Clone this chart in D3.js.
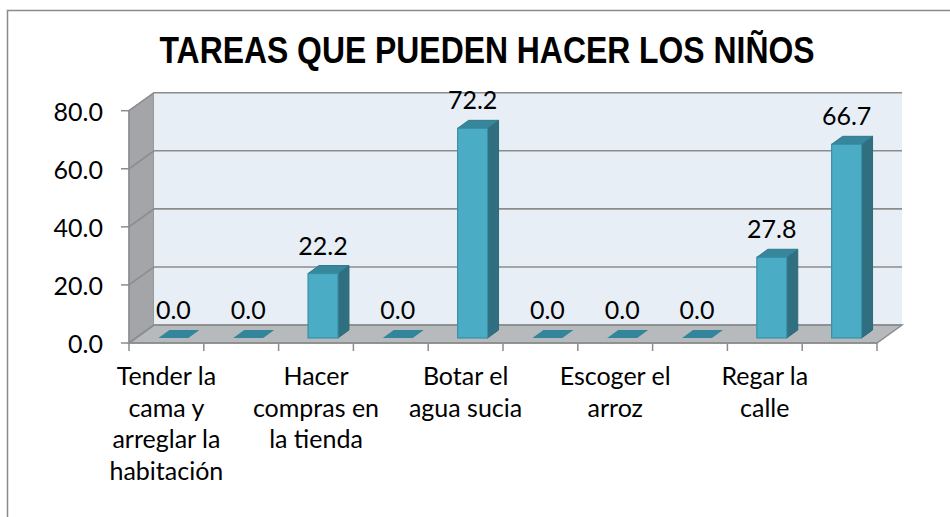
<!DOCTYPE html>
<html>
<head>
<meta charset="utf-8">
<script src="https://cdn.jsdelivr.net/npm/d3@7"></script>
<style>
	body { margin: 0; background: #fff; }
	svg { display: block; }
</style>
</head>
<body>
<svg id="chart" width="950" height="517"></svg>
<script>
// datos del gráfico
const title = 'TAREAS QUE PUEDEN HACER LOS NIÑOS';
const values = [0.0, 0.0, 22.2, 0.0, 72.2, 0.0, 0.0, 0.0, 27.8, 66.7];
// sólo se ven las etiquetas de las categorías pares
const catLabels = [
	['Tender la', 'cama y', 'arreglar la', 'habitación'], [],
	['Hacer', 'compras en', 'la tienda'], [],
	['Botar el', 'agua sucia'], [],
	['Escoger el', 'arroz'], [],
	['Regar la', 'calle'], []
];
const yTicks = [0, 20, 40, 60, 80];

const svg = d3.select('#chart');
const font = 'Lato, "Open Sans", sans-serif';
const fs = 25;

// marco
svg.append('path').attr('d', 'M7.5,517 V10.5 H950').attr('fill', 'none').attr('stroke', '#8a8a8a').attr('stroke-width', 1.5);

// título
svg.append('text').attr('x', 487).attr('y', 63).attr('text-anchor', 'middle')
	.attr('font-family', '"Liberation Sans", Arial, sans-serif').attr('font-weight', 'bold').attr('font-size', 36)
	.attr('textLength', 655).attr('lengthAdjust', 'spacingAndGlyphs')
	.text(title);

const x = d3.scaleBand().domain(d3.range(values.length)).range([129, 877]).paddingInner(0.6).paddingOuter(0.3);
const y = d3.scaleLinear().domain([0, 80]).range([343, 110.7]);
const dx = 25, dy = -18; // profundidad del piso
const bdx = 11, bdy = -8; // profundidad de la barra
const ox = (dx - bdx) / 2, oy = (dy - bdy) / 2; // barra centrada en profundidad
const x0 = 129, x1 = 877;

// pared lateral
svg.append('path')
	.attr('d', `M${x0},${y(0)} L${x0},${y(80)} L${x0 + dx},${y(80) + dy} L${x0 + dx},${y(0) + dy} Z`)
	.attr('fill', '#a3a5a9').attr('stroke', '#8c8c8c').attr('stroke-width', 1);
// pared del fondo
svg.append('rect').attr('x', x0 + dx).attr('y', y(80) + dy).attr('width', x1 - x0).attr('height', y(0) - y(80))
	.attr('fill', '#e8eef5');
// piso
svg.append('path')
	.attr('d', `M${x0},${y(0)} L${x1},${y(0)} L${x1 + dx},${y(0) + dy} L${x0 + dx},${y(0) + dy} Z`)
	.attr('fill', '#b6babd').attr('stroke', '#8c8c8c').attr('stroke-width', 1.5);

// líneas de cuadrícula
yTicks.forEach((t) => {
	svg.append('path')
		.attr('d', `M${x0},${y(t)} L${x0 + dx},${y(t) + dy} H${x1 + dx}`)
		.attr('fill', 'none').attr('stroke', '#8c8c8c').attr('stroke-width', 1.6);
});

// eje Y
svg.append('line').attr('x1', x0).attr('x2', x0).attr('y1', y(80)).attr('y2', y(0)).attr('stroke', '#8c8c8c').attr('stroke-width', 1.5);
yTicks.forEach((t) => {
	svg.append('line').attr('x1', x0 - 8).attr('x2', x0).attr('y1', y(t)).attr('y2', y(t)).attr('stroke', '#8c8c8c').attr('stroke-width', 1.5);
	svg.append('text').attr('x', 103).attr('y', y(t) + 10).attr('text-anchor', 'end')
		.attr('font-family', font).attr('font-size', fs).attr('fill', '#000').text(t.toFixed(1));
});

// eje X y marcas
svg.append('line').attr('x1', x0).attr('x2', x1).attr('y1', y(0)).attr('y2', y(0)).attr('stroke', '#8c8c8c').attr('stroke-width', 1.5);
const step = x.step();
d3.range(values.length + 1).forEach((i) => {
	const tx = x0 + i * step;
	svg.append('line').attr('x1', tx).attr('x2', tx).attr('y1', y(0)).attr('y2', y(0) + 8).attr('stroke', '#8c8c8c').attr('stroke-width', 1.5);
});

// barras 3D
const bars = svg.append('g');
values.forEach((v, i) => {
	const bx = x(i) + ox, bw = x.bandwidth();
	const by0 = y(0) + oy, by1 = y(v) + oy;
	const g = bars.append('g');
	if (v > 0) {
		// cara lateral
		g.append('path').attr('d', `M${bx + bw},${by0} L${bx + bw},${by1} L${bx + bw + bdx},${by1 + bdy} L${bx + bw + bdx},${by0 + bdy} Z`)
			.attr('fill', '#2f6f80').attr('stroke', '#2b6a7a').attr('stroke-width', 1);
		// cara superior
		g.append('path').attr('d', `M${bx},${by1} L${bx + bw},${by1} L${bx + bw + bdx},${by1 + bdy} L${bx + bdx},${by1 + bdy} Z`)
			.attr('fill', '#36879b').attr('stroke', '#2f7a8c').attr('stroke-width', 1);
		// cara frontal
		g.append('rect').attr('x', bx).attr('y', by1).attr('width', bw).attr('height', by0 - by1)
			.attr('fill', '#4bacc6').attr('stroke', '#3a8fa6').attr('stroke-width', 1.2);
	} else {
		g.append('path').attr('d', `M${bx},${by0} L${bx + bw},${by0} L${bx + bw + bdx},${by0 + bdy} L${bx + bdx},${by0 + bdy} Z`)
			.attr('fill', '#32859a');
	}
	// etiqueta de valor
	g.append('text').attr('x', bx + bw / 2).attr('y', by1 + bdy - 11).attr('text-anchor', 'middle')
		.attr('font-family', font).attr('font-size', fs).attr('fill', '#000').text(v.toFixed(1));
});

// etiquetas de categorías
catLabels.forEach((lines, i) => {
	const t = svg.append('text').attr('text-anchor', 'middle').attr('font-family', font).attr('font-size', fs).attr('fill', '#000');
	lines.forEach((ln, k) => {
		t.append('tspan').attr('x', x(i) + x.bandwidth() / 2).attr('y', 385 + k * 31.7).text(ln);
	});
});
</script>
</body>
</html>
